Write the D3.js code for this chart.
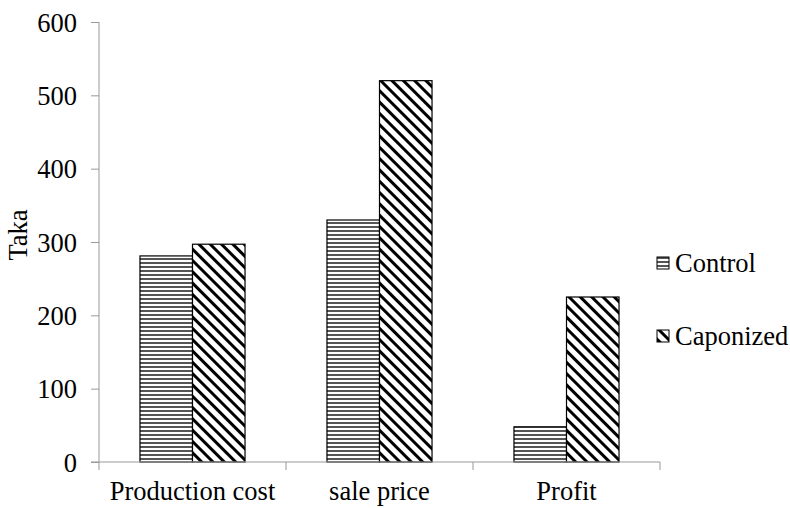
<!DOCTYPE html>
<html>
<head>
<meta charset="utf-8">
<script src="https://d3js.org/d3.v7.min.js"></script>
<style>
  body { margin: 0; background: #fff; }
  svg text { font-family: "Times New Roman", "Liberation Serif", "DejaVu Serif", serif !important; fill: #000; }
</style>
</head>
<body>
<script>
// chart data
var categories = ["Production cost", "sale price", "Profit"];
var seriesNames = ["Control", "Caponized"];
var controlValues = [281, 330, 48];
var caponizedValues = [297, 520, 225];
var yTicks = [0, 100, 200, 300, 400, 500, 600];

var outerWidth = 790, outerHeight = 508;
var margin = { top: 22, left: 99, right: 130, bottom: 46 };
var width = 660 - margin.left,
    height = 462 - margin.top;
var fontSize = "26.5px";
var serif = "'Times New Roman', 'Liberation Serif', 'DejaVu Serif', serif";

var svg = d3.select("body").append("svg")
  .attr("width", outerWidth)
  .attr("height", outerHeight)
  .attr("font-family", serif);

// patterns for the two series
var defs = svg.append("defs");
var horiz = defs.append("pattern")
  .attr("id", "horiz")
  .attr("patternUnits", "userSpaceOnUse")
  .attr("width", 8).attr("height", 4);
horiz.append("rect").attr("width", 8).attr("height", 4).attr("fill", "#fff");
horiz.append("rect").attr("y", 0).attr("width", 8).attr("height", 2).attr("fill", "#555");

var diag = defs.append("pattern")
  .attr("id", "diag")
  .attr("patternUnits", "userSpaceOnUse")
  .attr("width", 8).attr("height", 8)
  .attr("patternTransform", "rotate(-45)");
diag.append("rect").attr("width", 8).attr("height", 8).attr("fill", "#fff");
diag.append("rect").attr("x", 0).attr("width", 3).attr("height", 8).attr("fill", "#000");

var g = svg.append("g").attr("transform", "translate(" + margin.left + "," + margin.top + ")");

var xScale = d3.scaleBand().domain(categories).range([0, width]);
var xInner = d3.scaleBand().domain(seriesNames).range([0, xScale.bandwidth()]).paddingOuter(0.78).paddingInner(0);
var yScale = d3.scaleLinear().domain([0, 600]).range([height, 0]);

var fills = { "Control": "url(#horiz)", "Caponized": "url(#diag)" };

var rows = categories.map(function(c, i) {
  return { cat: c, values: [
    { name: "Control", value: controlValues[i] },
    { name: "Caponized", value: caponizedValues[i] }
  ] };
});

// bars
var groups = g.selectAll(".grp").data(rows).enter().append("g")
  .attr("transform", function(d) { return "translate(" + xScale(d.cat) + ",0)"; });

groups.selectAll("rect").data(function(d) { return d.values; }).enter().append("rect")
  .attr("x", function(d) { return xInner(d.name); })
  .attr("y", function(d) { return yScale(d.value); })
  .attr("width", xInner.bandwidth())
  .attr("height", function(d) { return height - yScale(d.value); })
  .attr("fill", function(d) { return fills[d.name]; })
  .attr("stroke", "#000")
  .attr("stroke-width", 1.2);

// y axis
var yAxis = g.append("g").call(d3.axisLeft(yScale).tickValues(yTicks).tickSize(8).tickPadding(14));
yAxis.attr("font-family", serif).attr("font-size", null);
yAxis.select(".domain").attr("stroke", "#999").attr("d", "M0,0V" + height);
yAxis.selectAll("line").attr("stroke", "#999");
yAxis.selectAll("text").style("font-size", fontSize).style("font-family", serif).attr("dy", "0.34em");

// x axis with ticks at category boundaries
var xAxisG = g.append("g").attr("transform", "translate(0," + height + ")");
xAxisG.append("line").attr("x1", -8).attr("x2", width).attr("stroke", "#999");
var bounds = categories.map(function(c) { return xScale(c); }).concat([width]);
xAxisG.selectAll(".tk").data(bounds).enter().append("line")
  .attr("x1", function(d) { return d; }).attr("x2", function(d) { return d; })
  .attr("y1", 0).attr("y2", 8).attr("stroke", "#999");
xAxisG.selectAll(".lbl").data(categories).enter().append("text")
  .attr("x", function(d) { return xScale(d) + xScale.bandwidth() / 2; })
  .attr("y", 38)
  .attr("text-anchor", "middle")
  .style("font-size", fontSize)
  .style("font-family", serif)
  .text(function(d) { return d; });

// y title
svg.append("text")
  .attr("transform", "translate(27,235) rotate(-90)")
  .attr("text-anchor", "middle")
  .style("font-size", fontSize)
  .style("font-family", serif)
  .text("Taka");

// legend
var legend = svg.selectAll(".leg").data(seriesNames).enter().append("g")
  .attr("transform", function(d, i) { return "translate(657," + (257 + i * 73) + ")"; });
legend.append("rect")
  .attr("width", 12).attr("height", 12)
  .attr("fill", function(d) { return fills[d]; })
  .attr("stroke", "#000").attr("stroke-width", 1);
legend.append("text")
  .attr("x", 18).attr("y", 15)
  .style("font-size", fontSize)
  .style("font-family", serif)
  .text(function(d) { return d; });
</script>
</body>
</html>
